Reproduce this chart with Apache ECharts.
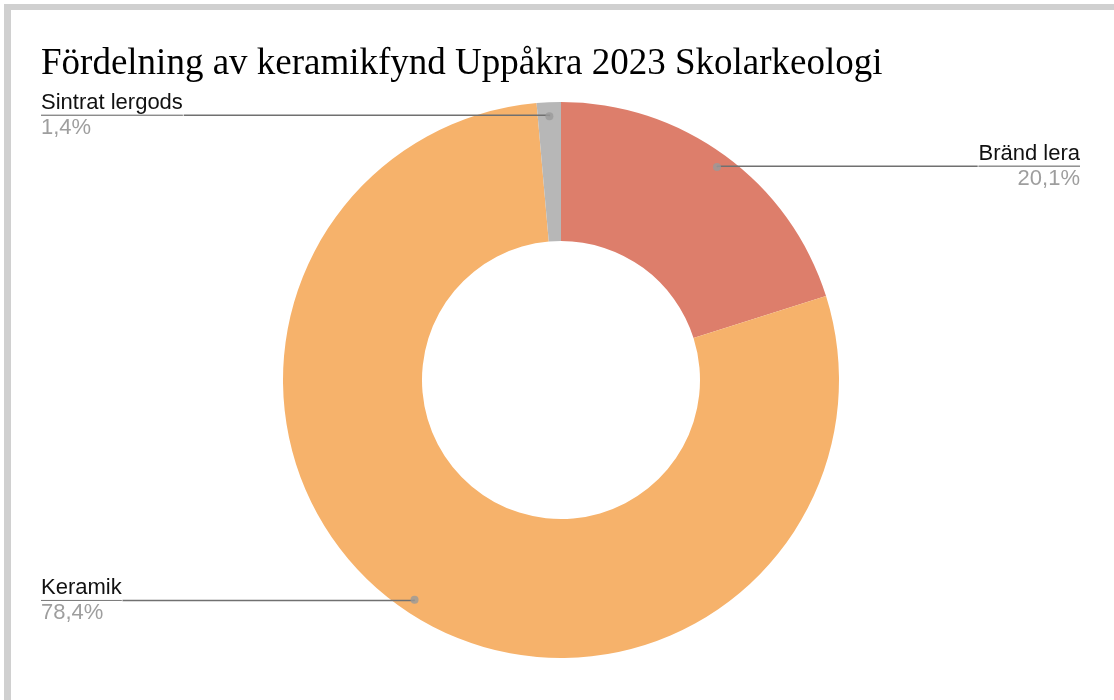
<!DOCTYPE html>
<html lang="sv">

<head>
    <meta charset="UTF-8">
    <title>Fördelning av keramikfynd</title>
    <script src="https://cdn.jsdelivr.net/npm/echarts@6/dist/echarts.min.js"></script>
    <style>
        html, body {
            margin: 0;
            padding: 0;
            background: #fff;
        }
        #ram {
            position: absolute;
            left: 4px;
            top: 4px;
            width: 1120px;
            height: 710px;
            border-top: 6px solid #d0d0d0;
            border-left: 7px solid #d0d0d0;
        }
        #diagram {
            position: absolute;
            left: 0;
            top: 0;
            height: 700px;
            width: 1114px;
        }
    </style>
</head>

<body>
    <div id="ram"></div>
    <div id="diagram"></div>
    <script>
        // data (procent)
        const kategorier = ['Bränd lera', 'Keramik', 'Sintrat lergods'];
        const andelar = [20.1, 78.4, 1.4];
        const farger = ['#dd7e6b', '#f6b26b', '#b7b7b7'];

        const summa = andelar.reduce((a, b) => a + b, 0);
        const mitt = [561, 380];
        const yttreR = 278;
        const prickR = 264;

        // mittvinkel för varje tårtbit (för prickarna)
        let acc = 0;
        const mittpunkter = andelar.map(v => {
            const m = acc + v / 2;
            acc += v;
            return [prickR, m];
        });

        const pieData = kategorier.map((k, i) => ({
            name: k,
            value: andelar[i],
            itemStyle: { color: farger[i] }
        }));

        // etiketter till vänster ligger 40px från kanten, höger 34px
        const etikettData = kategorier.map((k, i) => ({
            name: k,
            value: andelar[i],
            label: { edgeDistance: i === 0 ? 34 : 41 }
        }));

        let chart = echarts.init(document.getElementById('diagram'));

        let options = {
            animation: false,
            title: {
                text: 'Fördelning av keramikfynd Uppåkra 2023 Skolarkeologi',
                left: 36,
                top: 41,
                textStyle: {
                    fontFamily: 'Liberation Serif',
                    fontWeight: 'normal',
                    fontSize: 37,
                    color: '#000'
                }
            },
            polar: {
                center: mitt,
                radius: yttreR
            },
            angleAxis: {
                type: 'value',
                min: 0,
                max: summa,
                startAngle: 90,
                clockwise: true,
                show: false
            },
            radiusAxis: {
                min: 0,
                max: yttreR,
                show: false
            },
            series: [
                {
                    name: 'Fynd',
                    type: 'pie',
                    center: mitt,
                    radius: [139, yttreR],
                    startAngle: 90,
                    silent: true,
                    label: { show: false },
                    labelLine: { show: false },
                    data: pieData
                },
                {
                    // osynlig serie som bara bär etiketter och linjer
                    name: 'Etiketter',
                    type: 'pie',
                    center: mitt,
                    radius: [0, prickR],
                    startAngle: 90,
                    silent: true,
                    z: 5,
                    itemStyle: { color: 'transparent' },
                    label: {
                        alignTo: 'edge',
                        distanceToLabelLine: 0,
                        fontFamily: 'Liberation Sans',
                        formatter: function (p) {
                            let txt = p.value.toFixed(1).replace('.', ',');
                            return '{namn|' + p.name + '}\n{hr|}\n{pct|' + txt + '%}';
                        },
                        rich: {
                            namn: {
                                fontFamily: 'Liberation Sans',
                                fontSize: 22,
                                color: '#111',
                                lineHeight: 25
                            },
                            hr: {
                                borderColor: '#777',
                                borderWidth: 0.8,
                                width: '100%',
                                height: 0,
                                lineHeight: 0
                            },
                            pct: {
                                fontFamily: 'Liberation Sans',
                                fontSize: 22,
                                color: '#9e9e9e',
                                lineHeight: 25
                            }
                        }
                    },
                    labelLine: {
                        show: true,
                        length: 1,
                        length2: 10,
                        lineStyle: { color: '#707070', width: 1.6 }
                    },
                    data: etikettData
                },
                {
                    name: 'Prickar',
                    type: 'scatter',
                    coordinateSystem: 'polar',
                    symbolSize: 8,
                    silent: true,
                    z: 6,
                    itemStyle: { color: '#9a9a9a' },
                    data: mittpunkter
                }
            ]
        };
        chart.setOption(options);
    </script>
</body>

</html>
